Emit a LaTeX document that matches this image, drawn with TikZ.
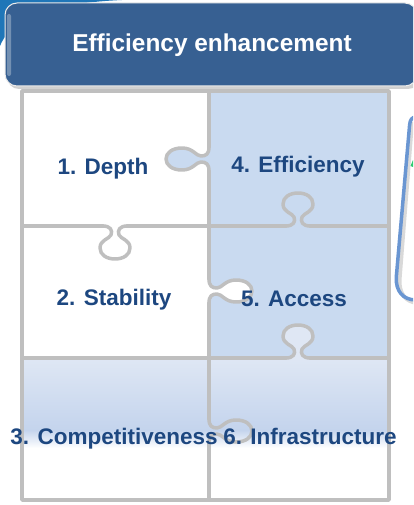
\documentclass[tikz,border=0pt]{standalone}
\usepackage{fontspec}
\setmainfont{Liberation Sans}
\usepackage{xcolor}

\definecolor{headblue}{HTML}{376092}
\definecolor{swoosh}{HTML}{1F76B8}
\definecolor{cellblue}{HTML}{C9DAF0}
\definecolor{rowtop}{HTML}{DFE7F4}
\definecolor{rowmid}{HTML}{C4D4ED}
\definecolor{gridgray}{HTML}{BFBFBF}
\definecolor{labelblue}{HTML}{1D4780}
\definecolor{calloutblue}{HTML}{6A96D2}
\definecolor{arrowgreen}{HTML}{2ECC71}

\tikzset{
  edge/.style={draw=gridgray, line width=3.5pt, line cap=round, line join=round},
  headtext/.style={text=white, font=\fontsize{24.4}{28}\selectfont\bfseries, anchor=base, inner sep=0pt},
  piecetext/.style={text=labelblue, font=\fontsize{22.5}{26}\selectfont\bfseries, anchor=base, inner sep=0pt},
  callout/.style={draw=calloutblue, line width=3.5pt, line join=round},
  % round puzzle tab
  knob/.pic={
    \path[edge, pic actions] (-12,0) .. controls (-5,0) and (-2,4) .. (-4,9)
      .. controls (-6,13) and (-15,14) .. (-15,22)
      .. controls (-15,29) and (-8,33) .. (0,33)
      .. controls (8,33) and (15,29) .. (15,22)
      .. controls (15,14) and (6,13) .. (4,9)
      .. controls (2,4) and (5,0) .. (12,0);
  },
  % long puzzle tab
  longknob/.pic={
    \path[edge, pic actions] (-12,0) .. controls (-5,0) and (-3,3) .. (-3,8)
      .. controls (-3,13) and (-11,16) .. (-11,27)
      .. controls (-11,37) and (-6,43) .. (0,43)
      .. controls (6,43) and (11,37) .. (11,27)
      .. controls (11,16) and (3,13) .. (3,8)
      .. controls (3,3) and (5,0) .. (12,0);
  },
}

\begin{document}
\begin{tikzpicture}[x=1pt, y=-1pt]

  \useasboundingbox (0,0) rectangle (413,505);
  \clip (0,0) rectangle (413,505);
  \fill[white] (0,0) rectangle (413,505);

  % Swoosh
  \fill[swoosh] (0,0) -- (122,0) .. controls (55,3) and (12,16) .. (0,46) -- cycle;

  % Title bar
  \fill[black!18, rounded corners=12pt] (7,6) rectangle (420,89);
  \filldraw[fill=headblue, draw=black!8, line width=1pt, rounded corners=12pt] (5,3) rectangle (417,86);
  \fill[white, opacity=0.3, rounded corners=2pt] (7,14) rectangle (11,76);
  \node[headtext] (head) at (212,52) {Efficiency enhancement};

  % Cells
  \fill[cellblue] (209,91) rectangle (389,358);
  \shade[top color=rowtop, bottom color=rowmid] (22,358) rectangle (389,430);
  \shade[top color=rowmid, bottom color=white] (22,430) rectangle (389,448);

  % Grid
  \draw[edge] (22,91) rectangle (389,500);
  \draw[edge] (209,91) -- (209,147) (209,171) -- (209,279) (209,303) -- (209,419) (209,443) -- (209,500);
  \draw[edge] (22,226) -- (103,226) (127,226) -- (286,226) (310,226) -- (389,226);
  \draw[edge] (22,358) -- (286,358) (310,358) -- (389,358);

  % Tabs
  \pic[rotate=-90, fill=cellblue] at (209,159) {longknob};
  \pic at (115,226) {knob};
  \pic[rotate=180] at (298,226) {knob};
  \pic[rotate=90, fill=white] at (209,291) {longknob};
  \pic[rotate=180, fill=rowtop] at (298,358) {knob};
  \pic[rotate=90] at (209,431) {longknob};

  % Labels
  \node[piecetext] (depth) at (103,174) {1. Depth};
  \node[piecetext] (stab) at (114,305) {2. Stability};
  \node[piecetext] (comp) at (114,444) {3. Competitiveness};
  \node[piecetext] (eff) at (298,172) {4. Efficiency};
  \node[piecetext] (access) at (294,306) {5. Access};
  \node[piecetext] (infra) at (310,444) {6. Infrastructure};

  % Callout
  \draw[gray!30, line width=4pt] (412,122) -- (399.5,280) .. controls (399,293) and (405,302) .. (418,303);
  \draw[callout] (420,117) -- (416,117) .. controls (412,117) and (410,120) .. (409.6,125)
    -- (396.3,277) .. controls (395.5,291) and (403,300) .. (416,300) -- (420,300);
  \fill[arrowgreen] (410.5,166) -- (413,160) -- (413,167) -- cycle;

\end{tikzpicture}
\end{document}
